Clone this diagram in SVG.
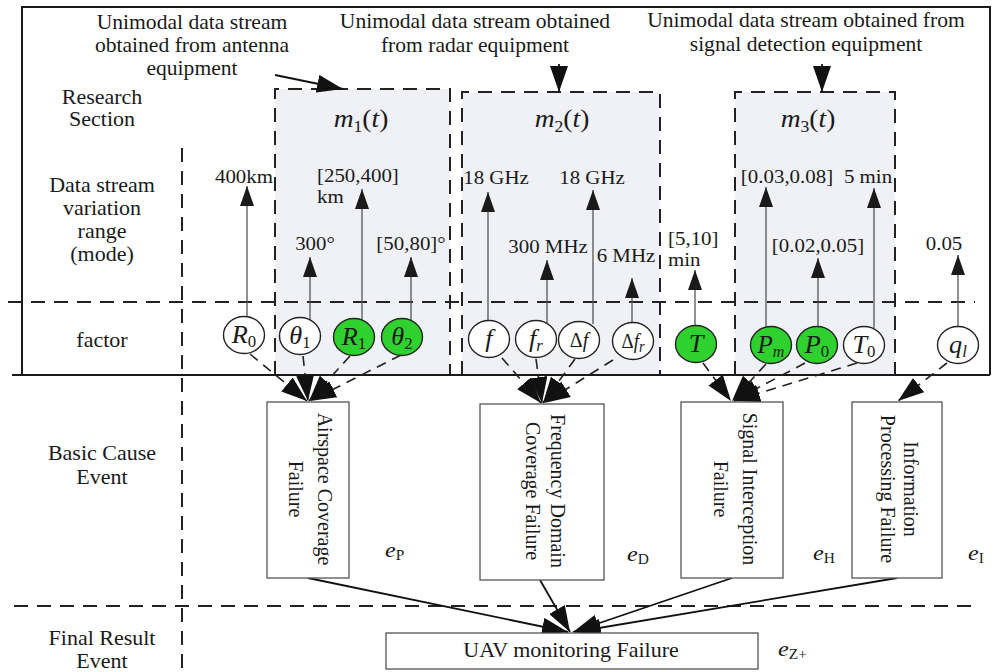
<svg xmlns="http://www.w3.org/2000/svg" width="999" height="672" viewBox="0 0 999 672">
  <defs>
    <marker id="tri" viewBox="0 0 20 14" refX="20" refY="7" markerWidth="20" markerHeight="14" markerUnits="userSpaceOnUse" orient="auto">
      <path d="M0,0 L20,7 L0,14 Z" fill="#1a1a1a"/>
    </marker>
    <marker id="big" viewBox="0 0 26 18" refX="26" refY="9" markerWidth="26" markerHeight="18" markerUnits="userSpaceOnUse" orient="auto">
      <path d="M0,0 L26,9 L0,18 Z" fill="#111"/>
    </marker>
  </defs>
  <style>
    text { font-family: "Liberation Serif", "Times New Roman", serif; fill: #1a1a1a; }
    .lbl { font-size: 20px; }
    .val { font-size: 19px; }
    .c { text-anchor: middle; }
    .it { font-style: italic; }
    .sym { font-size: 25px; }
    .sym-s { font-size: 21px; }
    .sub { font-size: 16px; }
    .mt { font-size: 25px; }
    .sec { fill: none; stroke: #222; stroke-width: 2; stroke-dasharray: 14 9; }
    .grp { fill: #eff1f6; stroke: #222; stroke-width: 2; stroke-dasharray: 14 9; }
    .frame { fill: none; stroke: #1a1a1a; stroke-width: 2; }
    .rng { stroke: #555; stroke-width: 1.3; marker-end: url(#tri); }
    .dsh { fill: none; stroke: #222; stroke-width: 1.6; stroke-dasharray: 10 7; marker-end: url(#big); }
    .sol { stroke: #111; stroke-width: 1.8; marker-end: url(#big); }
    .ann { stroke: #111; stroke-width: 1.8; marker-end: url(#big); }
    .box { fill: #fff; stroke: #555; stroke-width: 1.3; }
    .fac { fill: #fff; stroke: #222; stroke-width: 1.4; }
    .on { fill: #2fd12f; }
  </style>

  <rect width="999" height="672" fill="#fff"/>

  <!-- equipment data-stream groups -->
  <g id="group-m1">
    <path class="grp" d="M275,375 V89 H450 V375"/>
    <text class="mt c" transform="translate(361 127) scale(1.1 1)"><tspan class="it">m</tspan><tspan class="sub" dy="5">1</tspan><tspan dy="-5">(</tspan><tspan class="it">t</tspan><tspan>)</tspan></text>
  </g>
  <g id="group-m2">
    <path class="grp" d="M462,375 V92 H660 V375"/>
    <text class="mt c" transform="translate(562 127) scale(1.1 1)"><tspan class="it">m</tspan><tspan class="sub" dy="5">2</tspan><tspan dy="-5">(</tspan><tspan class="it">t</tspan><tspan>)</tspan></text>
  </g>
  <g id="group-m3">
    <path class="grp" d="M735,375 V92 H895 V375"/>
    <text class="mt c" transform="translate(808 127) scale(1.1 1)"><tspan class="it">m</tspan><tspan class="sub" dy="5">3</tspan><tspan dy="-5">(</tspan><tspan class="it">t</tspan><tspan>)</tspan></text>
  </g>

  <!-- section dividers and frame -->
  <g id="sections">
    <line class="sec" x1="8" y1="302" x2="975" y2="302"/>
    <line class="sec" x1="14" y1="606" x2="977" y2="606"/>
    <line class="sec" x1="182" y1="148" x2="182" y2="672"/>
    <path class="frame" d="M22,375 V7 H990 V375"/>
    <line class="frame" x1="12" y1="375" x2="990" y2="375"/>
  </g>

  <!-- row labels -->
  <g id="row-labels" class="lbl">
    <text class="c" transform="translate(102 104) scale(1.1 1)">Research</text>
    <text class="c" transform="translate(102 126) scale(1.1 1)">Section</text>
    <text class="c" transform="translate(102 192) scale(1.1 1)">Data stream</text>
    <text class="c" transform="translate(102 215) scale(1.1 1)">variation</text>
    <text class="c" transform="translate(102 238) scale(1.1 1)">range</text>
    <text class="c" transform="translate(102 261) scale(1.1 1)">(mode)</text>
    <text class="c" transform="translate(102 347) scale(1.1 1)">factor</text>
    <text class="c" transform="translate(102 460) scale(1.1 1)">Basic Cause</text>
    <text class="c" transform="translate(102 484) scale(1.1 1)">Event</text>
    <text class="c" transform="translate(102 645) scale(1.1 1)">Final Result</text>
    <text class="c" transform="translate(102 668) scale(1.1 1)">Event</text>
  </g>

  <!-- equipment captions -->
  <g id="caption-antenna" class="lbl">
    <text class="c" transform="translate(192 29) scale(1.08 1)">Unimodal data stream</text>
    <text class="c" transform="translate(192 52) scale(1.08 1)">obtained from antenna</text>
    <text class="c" transform="translate(192 75) scale(1.08 1)">equipment</text>
  </g>
  <g id="caption-radar" class="lbl">
    <text class="c" transform="translate(475 28) scale(1.08 1)">Unimodal data stream obtained</text>
    <text class="c" transform="translate(475 52) scale(1.08 1)">from radar equipment</text>
  </g>
  <g id="caption-signal" class="lbl">
    <text class="c" transform="translate(806 27) scale(1.08 1)">Unimodal data stream obtained from</text>
    <text class="c" transform="translate(806 51) scale(1.08 1)">signal detection equipment</text>
  </g>

  <!-- connectors -->
  <g id="connectors">
    <line class="ann" x1="275" y1="75" x2="343" y2="89"/>
    <line class="ann" x1="559" y1="64" x2="559" y2="92"/>
    <line class="ann" x1="822" y1="64" x2="822" y2="92"/>

    <!-- variation ranges -->
    <line class="rng" x1="247" y1="317" x2="247" y2="186"/>
    <line class="rng" x1="310" y1="320" x2="310" y2="257"/>
    <line class="rng" x1="362" y1="321" x2="362" y2="189"/>
    <line class="rng" x1="411" y1="321" x2="411" y2="257"/>
    <line class="rng" x1="488" y1="321" x2="488" y2="192"/>
    <line class="rng" x1="547" y1="323" x2="547" y2="260"/>
    <line class="rng" x1="593" y1="324" x2="593" y2="190"/>
    <line class="rng" x1="632" y1="323" x2="632" y2="278"/>
    <line class="rng" x1="695" y1="326" x2="695" y2="270"/>
    <line class="rng" x1="766" y1="327" x2="766" y2="187"/>
    <line class="rng" x1="818" y1="327" x2="818" y2="258"/>
    <line class="rng" x1="874" y1="328" x2="874" y2="188"/>
    <line class="rng" x1="958" y1="327" x2="958" y2="255"/>

    <!-- factors to basic cause events -->
    <line class="dsh" x1="250" y1="354" x2="307" y2="401"/>
    <line class="dsh" x1="303" y1="356" x2="308" y2="401"/>
    <line class="dsh" x1="350" y1="356" x2="309" y2="401"/>
    <line class="dsh" x1="401" y1="355" x2="310" y2="401"/>

    <line class="dsh" x1="502" y1="358" x2="541" y2="403"/>
    <line class="dsh" x1="536" y1="359" x2="542" y2="403"/>
    <line class="dsh" x1="575" y1="359" x2="543" y2="403"/>
    <line class="dsh" x1="613" y1="360" x2="544" y2="403"/>

    <line class="dsh" x1="703" y1="363" x2="731" y2="401"/>
    <line class="dsh" x1="766" y1="364" x2="732" y2="401"/>
    <line class="dsh" x1="805" y1="363" x2="733" y2="401"/>
    <line class="dsh" x1="857" y1="363" x2="734" y2="401"/>

    <line class="dsh" x1="947" y1="363" x2="898" y2="401"/>

    <!-- basic cause events to final result -->
    <line class="sol" x1="308" y1="578" x2="568" y2="632"/>
    <line class="sol" x1="540" y1="580" x2="570" y2="632"/>
    <line class="sol" x1="732" y1="578" x2="573" y2="632"/>
    <line class="sol" x1="897" y1="578" x2="575" y2="632"/>
  </g>

  <!-- range labels -->
  <g id="range-labels" class="val">
    <text class="c" transform="translate(244 183) scale(1.1 1)">400km</text>
    <text transform="translate(317 182) scale(1.1 1)">[250,400]</text>
    <text transform="translate(317 203) scale(1.1 1)">km</text>
    <text class="c" transform="translate(315 250) scale(1.1 1)">300°</text>
    <text class="c" transform="translate(411 250) scale(1.1 1)">[50,80]°</text>
    <text class="c" transform="translate(496 184) scale(1.1 1)">18 GHz</text>
    <text class="c" transform="translate(548 253) scale(1.1 1)">300 MHz</text>
    <text class="c" transform="translate(592 184) scale(1.1 1)">18 GHz</text>
    <text class="c" transform="translate(626 262) scale(1.1 1)">6 MHz</text>
    <text transform="translate(668 245) scale(1.1 1)">[5,10]</text>
    <text transform="translate(668 266) scale(1.1 1)">min</text>
    <text class="c" transform="translate(787 183) scale(1.1 1)">[0.03,0.08]</text>
    <text class="c" transform="translate(818 252) scale(1.1 1)">[0.02,0.05]</text>
    <text class="c" transform="translate(868 183) scale(1.1 1)">5 min</text>
    <text class="c" transform="translate(944 250) scale(1.1 1)">0.05</text>
  </g>

  <!-- factors -->
  <g id="factor-R0">
    <ellipse class="fac" cx="244" cy="335" rx="20.5" ry="18.5"/>
    <text class="sym c" transform="translate(244 343) scale(1.05 1)"><tspan class="it">R</tspan><tspan class="sub" dy="4">0</tspan></text>
  </g>
  <g id="factor-theta1">
    <ellipse class="fac" cx="300" cy="336" rx="20.5" ry="18.5"/>
    <text class="sym c" transform="translate(300 344) scale(1.05 1)"><tspan class="it">θ</tspan><tspan class="sub" dy="4">1</tspan></text>
  </g>
  <g id="factor-R1">
    <ellipse class="fac on" cx="354" cy="337" rx="20.5" ry="18.5"/>
    <text class="sym c" transform="translate(354 345) scale(1.05 1)"><tspan class="it">R</tspan><tspan class="sub" dy="4">1</tspan></text>
  </g>
  <g id="factor-theta2">
    <ellipse class="fac on" cx="402" cy="337" rx="20.5" ry="18.5"/>
    <text class="sym c" transform="translate(402 345) scale(1.05 1)"><tspan class="it">θ</tspan><tspan class="sub" dy="4">2</tspan></text>
  </g>
  <g id="factor-f">
    <ellipse class="fac" cx="489" cy="339" rx="20.5" ry="18.5"/>
    <text class="sym c it" transform="translate(489 347) scale(1.05 1)">f</text>
  </g>
  <g id="factor-fr">
    <ellipse class="fac" cx="536" cy="339" rx="20.5" ry="18.5"/>
    <text class="sym c" transform="translate(536 347) scale(1.05 1)"><tspan class="it">f</tspan><tspan class="sub it" dy="4">r</tspan></text>
  </g>
  <g id="factor-df">
    <ellipse class="fac" cx="579" cy="340" rx="20.5" ry="18.5"/>
    <text class="sym-s c" transform="translate(579 347) scale(0.95 1)"><tspan>Δ</tspan><tspan class="it">f</tspan></text>
  </g>
  <g id="factor-dfr">
    <ellipse class="fac" cx="633" cy="341" rx="20.5" ry="18.5"/>
    <text class="sym-s c" transform="translate(633 348) scale(0.9 1)"><tspan>Δ</tspan><tspan class="it">f</tspan><tspan class="sub it" font-size="14" dy="4">r</tspan></text>
  </g>
  <g id="factor-T">
    <ellipse class="fac on" cx="696" cy="344" rx="20.5" ry="18.5"/>
    <text class="sym c it" transform="translate(696 352) scale(1.05 1)">T</text>
  </g>
  <g id="factor-Pm">
    <ellipse class="fac on" cx="771" cy="345" rx="20.5" ry="18.5"/>
    <text class="sym c" transform="translate(771 353) scale(1.0 1)"><tspan class="it">P</tspan><tspan class="sub it" dy="4">m</tspan></text>
  </g>
  <g id="factor-P0">
    <ellipse class="fac on" cx="817" cy="345" rx="20.5" ry="18.5"/>
    <text class="sym c" transform="translate(817 353) scale(1.05 1)"><tspan class="it">P</tspan><tspan class="sub" dy="4">0</tspan></text>
  </g>
  <g id="factor-T0">
    <ellipse class="fac" cx="864" cy="345" rx="20.5" ry="18.5"/>
    <text class="sym c" transform="translate(864 353) scale(1.05 1)"><tspan class="it">T</tspan><tspan class="sub" dy="4">0</tspan></text>
  </g>
  <g id="factor-ql">
    <ellipse class="fac" cx="958" cy="345" rx="20.5" ry="18.5"/>
    <text class="sym c" transform="translate(958 353) scale(1.05 1)"><tspan class="it">q</tspan><tspan class="sub it" dy="4">l</tspan></text>
  </g>

  <!-- basic cause events -->
  <g id="event-airspace">
    <rect class="box" x="267" y="402" width="82" height="176"/>
    <text class="lbl c" transform="translate(318 489) scale(1.1 1) rotate(90)">Airspace Coverage</text>
    <text class="lbl c" transform="translate(289 489) scale(1.1 1) rotate(90)">Failure</text>
    <text transform="translate(385 557) scale(1.1 1)"><tspan class="it" font-size="22">e</tspan><tspan font-size="14" dy="3">P</tspan></text>
  </g>
  <g id="event-frequency">
    <rect class="box" x="480" y="404" width="124" height="176"/>
    <text class="lbl c" transform="translate(551 491) scale(1.1 1) rotate(90)">Frequency Domain</text>
    <text class="lbl c" transform="translate(526 491) scale(1.1 1) rotate(90)">Coverage Failure</text>
    <text transform="translate(627 561) scale(1.1 1)"><tspan class="it" font-size="22">e</tspan><tspan font-size="14" dy="3">D</tspan></text>
  </g>
  <g id="event-interception">
    <rect class="box" x="681" y="402" width="102" height="176"/>
    <text class="lbl c" transform="translate(743 489) scale(1.1 1) rotate(90)">Signal Interception</text>
    <text class="lbl c" transform="translate(714 489) scale(1.1 1) rotate(90)">Failure</text>
    <text transform="translate(813 560) scale(1.1 1)"><tspan class="it" font-size="22">e</tspan><tspan font-size="14" dy="3">H</tspan></text>
  </g>
  <g id="event-processing">
    <rect class="box" x="852" y="402" width="90" height="176"/>
    <text class="lbl c" transform="translate(904 489) scale(1.1 1) rotate(90)">Information</text>
    <text class="lbl c" transform="translate(881 489) scale(1.1 1) rotate(90)">Processing Failure</text>
    <text transform="translate(968 560) scale(1.1 1)"><tspan class="it" font-size="22">e</tspan><tspan font-size="14" dy="3">I</tspan></text>
  </g>

  <!-- final result event -->
  <g id="event-uav">
    <rect class="box" x="386" y="633" width="372" height="36"/>
    <text class="lbl c" transform="translate(571 657) scale(1.1 1)">UAV monitoring Failure</text>
    <text transform="translate(778 656) scale(1.1 1)"><tspan class="it" font-size="22">e</tspan><tspan font-size="14" dy="3">Z+</tspan></text>
  </g>
</svg>
